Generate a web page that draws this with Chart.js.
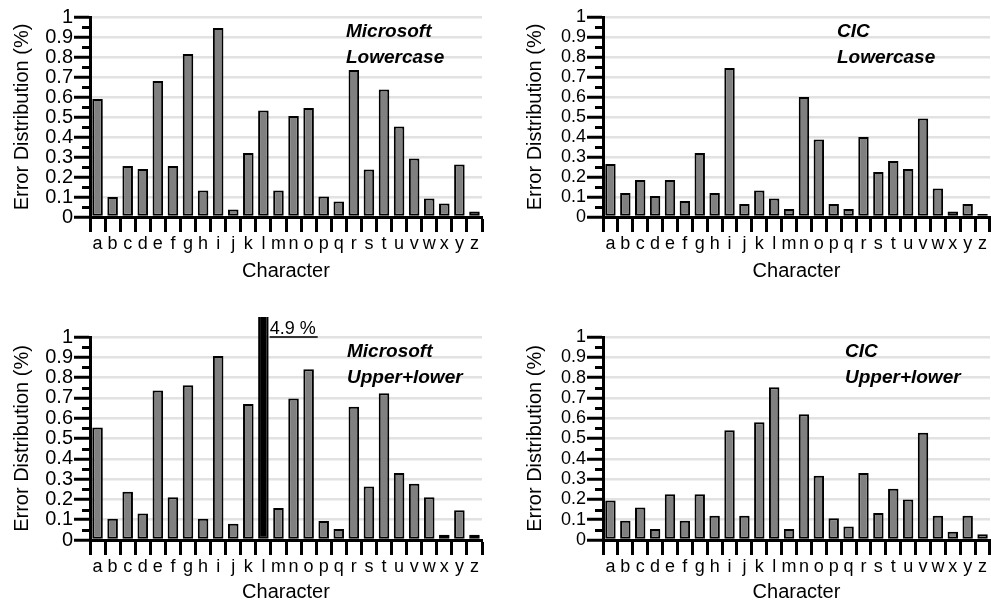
<!DOCTYPE html>
<html><head><meta charset="utf-8">
<script src="https://cdn.jsdelivr.net/npm/chart.js@4"></script>
<style>
html,body{margin:0;padding:0;background:#fff;width:991px;height:603px;overflow:hidden;}
canvas{position:absolute;}
</style></head><body>
<canvas id="c1" width="495" height="301" style="left:0;top:0"></canvas>
<canvas id="c2" width="496" height="301" style="left:495px;top:0"></canvas>
<canvas id="c3" width="495" height="302" style="left:0;top:301px"></canvas>
<canvas id="c4" width="496" height="302" style="left:495px;top:301px"></canvas>
<script>
const letters = ['a','b','c','d','e','f','g','h','i','j','k','l','m','n','o','p','q','r','s','t','u','v','w','x','y','z'];
const msLower = [0.59,0.10,0.255,0.24,0.68,0.255,0.815,0.133,0.945,0.038,0.32,0.533,0.133,0.505,0.545,0.103,0.078,0.735,0.238,0.638,0.453,0.293,0.093,0.067,0.263,0.027];
const cicLower = [0.265,0.12,0.185,0.105,0.185,0.08,0.32,0.12,0.745,0.065,0.133,0.093,0.04,0.60,0.387,0.065,0.04,0.40,0.225,0.28,0.24,0.493,0.143,0.027,0.065,0.015];
const msUpperLower = [0.554,0.105,0.238,0.13,0.736,0.21,0.762,0.105,0.907,0.08,0.67,4.9,0.158,0.697,0.841,0.093,0.054,0.657,0.264,0.723,0.33,0.277,0.21,0.026,0.146,0.026];
const cicUpperLower = [0.195,0.095,0.16,0.054,0.225,0.095,0.225,0.12,0.541,0.12,0.58,0.752,0.054,0.62,0.317,0.107,0.067,0.33,0.133,0.252,0.199,0.528,0.12,0.041,0.12,0.028];
const yTitle = 'Error Distribution (%)';
const xTitle = 'Character';
const panelTitles = [['Microsoft','Lowercase'],['CIC','Lowercase'],['Microsoft','Upper+lower'],['CIC','Upper+lower']];
const overflowLabel = '4.9 %';

const FONT = '"Liberation Sans", Arial, Helvetica, sans-serif';
Chart.defaults.font.family = FONT;
Chart.defaults.color = '#000';

const decor = {
  id: 'decor',
  afterDraw(chart, args, opts) {
    const ctx = chart.ctx, ys = chart.scales.y, a = chart.chartArea;
    ctx.save();
    ctx.strokeStyle = '#000';
    ctx.lineWidth = 3;
    for (let k = 0; k < 10; k++) {
      const py = Math.round(ys.getPixelForValue(0.05 + k * 0.1)) + 0.5;
      ctx.beginPath(); ctx.moveTo(a.left - 8, py); ctx.lineTo(a.left, py); ctx.stroke();
    }
    ctx.fillStyle = '#000';
    ctx.font = 'italic bold 19px ' + FONT;
    ctx.textBaseline = 'middle';
    ctx.textAlign = 'left';
    opts.lines.forEach((t, i) => ctx.fillText(t, opts.x, opts.y + i * 26));
    if (opts.overflowIndex != null) {
      const bar = chart.getDatasetMeta(0).data[opts.overflowIndex];
      const tx = bar.x + bar.width / 2 + 1;
      const y1 = ys.getPixelForValue(1);
      ctx.font = '18px ' + FONT;
      ctx.textBaseline = 'alphabetic';
      ctx.fillText(overflowLabel, tx, y1 - 3);
      const w = ctx.measureText(overflowLabel).width;
      ctx.strokeStyle = '#333';
      ctx.lineWidth = 2;
      ctx.beginPath(); ctx.moveTo(tx, y1); ctx.lineTo(tx + w + 2, y1); ctx.stroke();
    }
    ctx.restore();
  }
};

function makeChart(id, values, o) {
  const colors = values.map(v => v > 1 ? '#000' : '#808080');
  return new Chart(document.getElementById(id), {
    type: 'bar',
    data: {
      labels: letters,
      datasets: [{
        data: values,
        backgroundColor: colors,
        borderColor: '#000',
        borderWidth: 2,
        borderSkipped: false,
        barPercentage: 0.7,
        categoryPercentage: 1,
        clip: {left: 0, top: 20, right: 0, bottom: 0}
      }]
    },
    options: {
      responsive: false,
      animation: false,
      devicePixelRatio: 1,
      events: [],
      layout: {padding: {left: 0, top: o.top, right: o.right, bottom: 0}},
      plugins: {legend: {display: false}, tooltip: {enabled: false},
        decor: {lines: o.lines, x: o.tx, y: o.ty, overflowIndex: o.overflowIndex}},
      scales: {
        x: {
          offset: true,
          grid: {offset: true, drawOnChartArea: false, drawTicks: true, tickLength: 15, tickColor: '#000', tickWidth: 3},
          border: {display: true, color: '#000', width: 3, z: 1},
          ticks: {autoSkip: false, maxRotation: 0, minRotation: 0, padding: 1, color: '#000', font: {size: 18}},
          title: {display: true, text: xTitle, color: '#000', font: {size: 20, lineHeight: 1}, padding: {top: 0, bottom: o.xtPad}},
          afterFit: s => { s.height = o.xh; }
        },
        y: {
          min: 0, max: 1,
          grid: {color: c => c.tick && c.tick.value === 0 ? 'rgba(0,0,0,0)' : '#e2e2e2', lineWidth: 2.5, drawTicks: true, tickLength: 16, tickColor: '#000', tickWidth: 3},
          border: {display: true, color: '#000', width: 3, z: 1},
          ticks: {stepSize: 0.1, autoSkip: false, padding: 1, color: '#000', font: {size: o.yfs, lineHeight: 1}, callback: v => String(+v.toFixed(1))},
          title: {display: true, text: yTitle, color: '#000', font: {size: 20, lineHeight: 1}, padding: {top: o.ytPad, bottom: 0}},
          afterFit: s => { s.width = o.yw; }
        }
      }
    },
    plugins: [decor]
  });
}

makeChart('c1', msLower, {top: 17, right: 13, yw: 90, xh: 84, xtPad: 20, ytPad: 12, yfs: 20, lines: panelTitles[0], tx: 346, ty: 32});
makeChart('c2', cicLower, {top: 17, right: 1, yw: 108, xh: 84, xtPad: 20, ytPad: 30, yfs: 18, lines: panelTitles[1], tx: 342, ty: 32});
makeChart('c3', msUpperLower, {top: 36, right: 13, yw: 90, xh: 63, xtPad: 1, ytPad: 12, yfs: 20, lines: panelTitles[2], tx: 347, ty: 51, overflowIndex: 11});
makeChart('c4', cicUpperLower, {top: 36, right: 1, yw: 108, xh: 63, xtPad: 1, ytPad: 30, yfs: 18, lines: panelTitles[3], tx: 350, ty: 51});
</script>
</body></html>
